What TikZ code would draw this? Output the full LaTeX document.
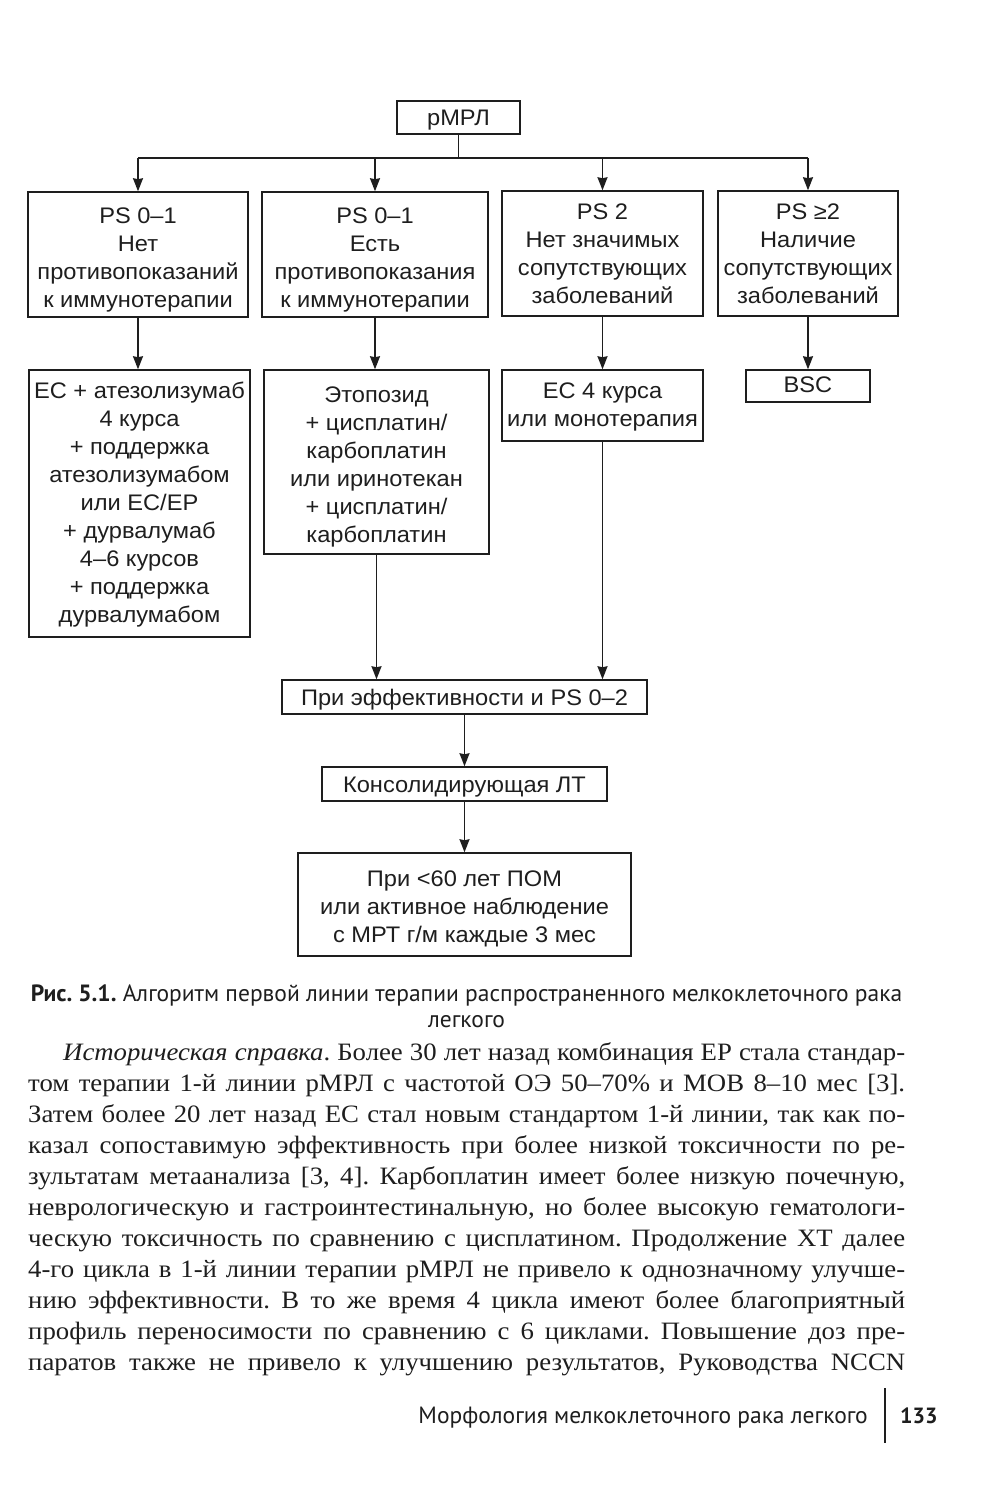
\documentclass[tikz,border=0pt]{standalone}
\usepackage{fontspec}
\setmainfont{Liberation Serif}
\newfontfamily\boxfont[FakeStretch=1.05]{Liberation Sans}
\newfontfamily\bodyfont[FakeStretch=1.07]{Liberation Serif}
\newfontfamily\capfont{PT Sans}
\usetikzlibrary{arrows.meta}
\definecolor{ink}{HTML}{1E1E1E}
\frenchspacing
% lower the text inside a box by #1 without changing the box size
\newcommand\dn[2]{\raisebox{-#1}[\height][\depth]{\begin{tabular}{@{}c@{}}#2\end{tabular}}}
\begin{document}
\begin{tikzpicture}[x=1pt,y=-1pt,
  box/.style={draw=ink, line width=1.5pt, inner sep=0pt, text=ink,
    font=\boxfont\fontsize{22.5}{28}\selectfont},
  arr/.style={draw=ink, line width=1.5pt, -{Stealth[length=13pt,width=10pt,inset=1pt]}},
  ln/.style={draw=ink, line width=1.5pt},
  bodyline/.style={anchor=base west, inner sep=0pt, text=ink,
    font=\bodyfont\fontsize{25}{31}\selectfont},
  captext/.style={anchor=base, inner sep=0pt, text=ink,
    font=\capfont\fontsize{23.5}{27}\selectfont}]
\useasboundingbox (0,0) rectangle (1000,1503);
\fill[white] (0,0) rectangle (1000,1503);

% --- boxes ---
\node[box, minimum width=123pt, minimum height=33pt] (top) at (458.5,117.5) {\dn{2pt}{рМРЛ}};

\node[box, minimum width=220pt, minimum height=125pt] (b1) at (138,254.5)
  {\dn{5pt}{PS 0–1\\Нет\\противопоказаний\\к иммунотерапии}};
\node[box, minimum width=226pt, minimum height=125pt] (b2) at (375,254.5)
  {\dn{5pt}{PS 0–1\\Есть\\противопоказания\\к иммунотерапии}};
\node[box, minimum width=201pt, minimum height=125pt] (b3) at (602.5,253.5)
  {\dn{2.5pt}{PS 2\\Нет значимых\\сопутствующих\\заболеваний}};
\node[box, minimum width=180pt, minimum height=125pt] (b4) at (808,253.5)
  {\dn{2.5pt}{PS ≥2\\Наличие\\сопутствующих\\заболеваний}};

\node[box, minimum width=221pt, minimum height=267pt] (b5) at (139.5,503.5)
  {\dn{1pt}{ЕС + атезолизумаб\\4 курса\\+ поддержка\\атезолизумабом\\или ЕС/ЕР\\+ дурвалумаб\\4–6 курсов\\+ поддержка\\дурвалумабом}};
\node[box, minimum width=225pt, minimum height=184pt] (b6) at (376.5,462)
  {\dn{5pt}{Этопозид\\+ цисплатин/\\карбоплатин\\или иринотекан\\+ цисплатин/\\карбоплатин}};
\node[box, minimum width=201pt, minimum height=71pt] (b7) at (602.5,405.5)
  {\dn{1pt}{ЕС 4 курса\\или монотерапия}};
\node[box, minimum width=124pt, minimum height=32pt] (b8) at (808,386)
  {\dn{0.5pt}{BSC}};

\node[box, minimum width=365pt, minimum height=34pt] (b9) at (464.5,697)
  {\dn{3pt}{При эффективности и PS 0–2}};
\node[box, minimum width=285pt, minimum height=34pt] (b10) at (464.5,784)
  {\dn{3pt}{Консолидирующая ЛТ}};
\node[box, minimum width=333pt, minimum height=103pt] (b11) at (464.5,904.5)
  {\dn{4pt}{При <60 лет ПОМ\\или активное наблюдение\\с МРТ г/м каждые 3 мес}};

% --- connectors ---
\coordinate (bus) at (458.5,158);
\draw[ln] (top) -- (bus);
\draw[ln] (b1.north |- bus) -- (b4.north |- bus);
\draw[arr] (b1.north |- bus) -- (b1.north);
\draw[arr] (b2.north |- bus) -- (b2.north);
\draw[arr] (b3.north |- bus) -- (b3.north);
\draw[arr] (b4.north |- bus) -- (b4.north);

\draw[arr] (b1.south) -- (b1.south |- b5.north);
\draw[arr] (b2.south) -- (b2.south |- b6.north);
\draw[arr] (b3.south) -- (b3.south |- b7.north);
\draw[arr] (b4.south) -- (b4.south |- b8.north);

\draw[arr] (b6.south) -- (b6.south |- b9.north);
\draw[arr] (b7.south) -- (b7.south |- b9.north);
\draw[arr] (b9.south) -- (b10.north);
\draw[arr] (b10.south) -- (b11.north);

% --- caption ---
\node[captext] (cap1) at (466.5,1001)
  {\textbf{Рис. 5.1.} Алгоритм первой линии терапии распространенного мелкоклеточного рака};
\node[captext] (cap2) at (466.5,1027) {легкого};

% --- body text ---
\node[bodyline] (l1) at (63,1060) {\hbox to 842pt{\textit{Историческая справка}. Более 30 лет назад комбинация ЕР стала стандар-}};
\node[bodyline] (l2) at (28,1091) {\hbox to 877pt{том терапии 1-й линии рМРЛ с частотой ОЭ 50–70\% и МОВ 8–10 мес [3].}};
\node[bodyline] (l3) at (28,1122) {\hbox to 877pt{Затем более 20 лет назад ЕС стал новым стандартом 1-й линии, так как по-}};
\node[bodyline] (l4) at (28,1153) {\hbox to 877pt{казал сопоставимую эффективность при более низкой токсичности по ре-}};
\node[bodyline] (l5) at (28,1184) {\hbox to 877pt{зультатам метаанализа [3, 4]. Карбоплатин имеет более низкую почечную,}};
\node[bodyline] (l6) at (28,1215) {\hbox to 877pt{неврологическую и гастроинтестинальную, но более высокую гематологи-}};
\node[bodyline] (l7) at (28,1246) {\hbox to 877pt{ческую токсичность по сравнению с цисплатином. Продолжение ХТ далее}};
\node[bodyline] (l8) at (28,1277) {\hbox to 877pt{4-го цикла в 1-й линии терапии рМРЛ не привело к однозначному улучше-}};
\node[bodyline] (l9) at (28,1308) {\hbox to 877pt{нию эффективности. В то же время 4 цикла имеют более благоприятный}};
\node[bodyline] (l10) at (28,1339) {\hbox to 877pt{профиль переносимости по сравнению с 6 циклами. Повышение доз пре-}};
\node[bodyline] (l11) at (28,1370) {\hbox to 877pt{паратов также не привело к улучшению результатов, Руководства NCCN}};

% --- footer ---
\node[captext, anchor=base east] (foot) at (868,1423) {Морфология мелкоклеточного рака легкого};
\coordinate (barT) at (885,1388);
\coordinate (barB) at (885,1443);
\draw[ink, line width=2.4pt] (barT) -- (barB);
\node[captext, anchor=base west, font=\capfont\fontsize{22}{27}\selectfont] (pg) at (900,1423) {\textbf{133}};
\end{tikzpicture}
\end{document}
